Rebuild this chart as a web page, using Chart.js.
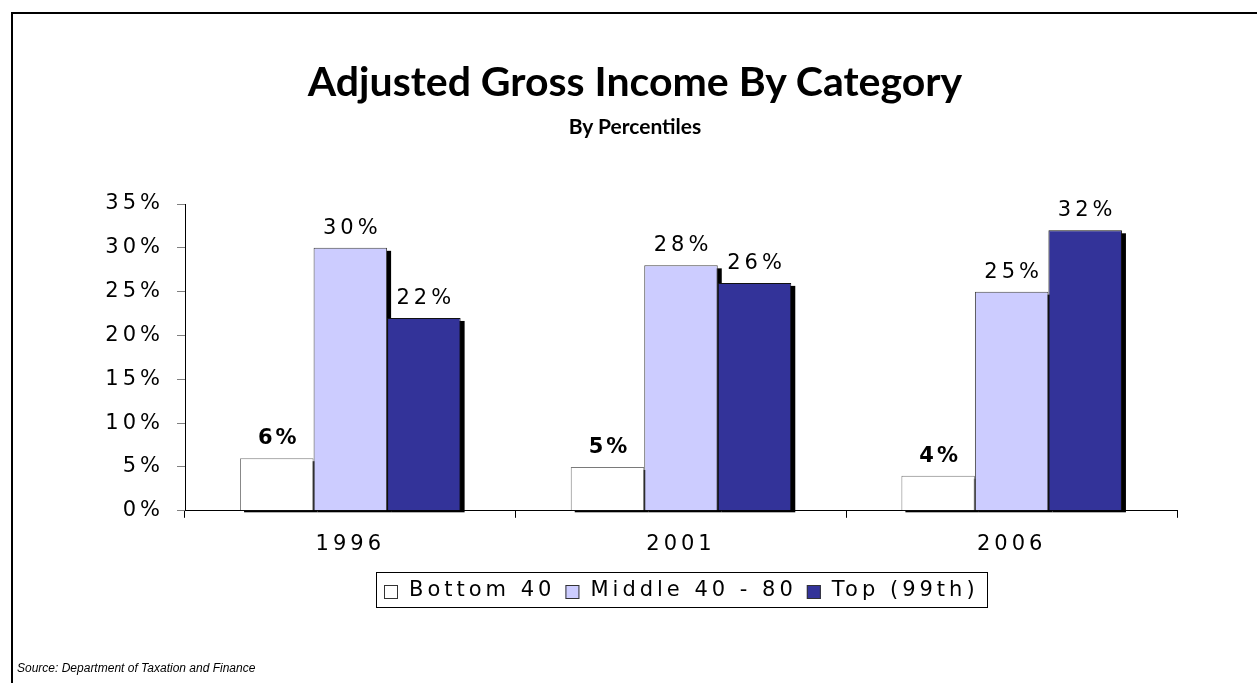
<!DOCTYPE html>
<html>
<head>
<meta charset="utf-8">
<title>Adjusted Gross Income By Category</title>
<script src="https://cdn.jsdelivr.net/npm/chart.js"></script>
<style>
  html, body { margin: 0; padding: 0; background: #fff; }
  #page { position: relative; width: 1257px; height: 683px; overflow: hidden; }
  #frame { position: absolute; left: 11px; top: 12px; width: 1400px; height: 800px;
           border-left: 2px solid #000; border-top: 2px solid #000; }
  #chartBox { position: absolute; left: 0; top: 0; width: 1257px; height: 683px; }
  .head { position: absolute; left: 13px; right: 0; text-align: center; color: #000;
          font-family: Lato, sans-serif; font-weight: bold; }
  #title { top: 60px; font-size: 41px; line-height: 41px; }
  #subtitle { top: 115px; font-size: 21px; line-height: 21px; }
  #source { position: absolute; left: 17px; top: 661px; font: italic 12px "Liberation Sans", Arial, sans-serif; color: #000; }
</style>
</head>
<body>
<div id="page">
  <div id="frame"></div>
  <div id="chartBox"><canvas id="graph"></canvas></div>
  <div class="head" id="title">Adjusted Gross Income By Category</div>
  <div class="head" id="subtitle">By Percentiles</div>
  <div id="source">Source: Department of Taxation and Finance</div>
</div>
<script>
const years = ["1996", "2001", "2006"];
const seriesNames = ["Bottom 40", "Middle 40 - 80", "Top (99th)"];
const bottom40 = [6, 5, 4];
const middle40to80 = [30, 28, 25];
const top99th = [22, 26, 32];
const yTicks = [0, 5, 10, 15, 20, 25, 30, 35];

const fillColors = ["#ffffff", "#ccccff", "#333399"];
const edgeColors = ["#7a7a7a", "#444444", "#111111"];
const textFont = "\"DejaVu Sans\"";
const textSize = 21;

// wide lettering for everything drawn on the canvas
const spacing = {
    id: "spacing",
    beforeUpdate(chart) { chart.ctx.letterSpacing = "4px"; },
    beforeDraw(chart) { chart.ctx.letterSpacing = "4px"; }
};

// black drop shadow behind each bar
const shadows = {
    id: "shadows",
    beforeDatasetsDraw(chart) {
        const ctx = chart.ctx;
        ctx.save();
        ctx.fillStyle = "#000";
        chart.data.datasets.forEach((ds, i) => {
            chart.getDatasetMeta(i).data.forEach(bar => {
                const p = bar.getProps(["x", "y", "base", "width"], true);
                ctx.fillRect(p.x - p.width / 2 + 4, p.y + 3, p.width, p.base - p.y - 1);
            });
        });
        ctx.restore();
    }
};

// value above every bar, bold for the first series
const valueLabels = {
    id: "valueLabels",
    afterDatasetsDraw(chart) {
        const ctx = chart.ctx;
        ctx.save();
        ctx.textAlign = "center";
        ctx.textBaseline = "alphabetic";
        ctx.fillStyle = "#000";
        chart.data.datasets.forEach((ds, i) => {
            ctx.font = (i === 0 ? "bold 21px " : textSize + "px ") + textFont;
            ctx.letterSpacing = i === 0 ? "3px" : "4px";
            chart.getDatasetMeta(i).data.forEach((bar, j) => {
                ctx.fillText(ds.data[j] + "%", bar.x + 2, bar.y - 14);
            });
        });
        ctx.restore();
    }
};

// legend in a framed box under the plot, centred on the plot area
const boxedLegend = {
    id: "boxedLegend",
    afterDraw(chart) {
        const ctx = chart.ctx;
        const area = chart.chartArea;
        const sw = 14, gap = 11, after = 10, pad = 8;
        ctx.save();
        ctx.font = textSize + "px " + textFont;
        const widths = chart.data.datasets.map(ds => ctx.measureText(ds.label).width);
        const total = pad * 2 + widths.reduce((a, w) => a + sw + gap + w + after, 0) - after;
        let x = Math.round((area.left + area.right) / 2 - total / 2);
        const top = Math.round(area.bottom) + 61, h = 35;
        const mid = top + h / 2 + 1;
        ctx.lineWidth = 1;
        ctx.strokeStyle = "#000";
        ctx.strokeRect(x + 0.5, top + 0.5, Math.round(total), h);
        x += pad;
        ctx.textAlign = "left";
        ctx.textBaseline = "middle";
        chart.data.datasets.forEach((ds, i) => {
            const sy = Math.round(mid - sw / 2) + 1;
            ctx.fillStyle = ds.backgroundColor;
            ctx.fillRect(x, sy, sw, sw);
            ctx.strokeStyle = "#333";
            ctx.strokeRect(x + 0.5, sy + 0.5, sw - 1, sw - 1);
            ctx.fillStyle = "#000";
            ctx.fillText(ds.label, x + sw + gap, mid);
            x += sw + gap + widths[i] + after;
        });
        ctx.restore();
    }
};

const seriesValues = [bottom40, middle40to80, top99th];

var chart = new Chart("graph", {
    type: "bar",
    data: {
        labels: years,
        datasets: seriesValues.map((values, i) => ({
            label: seriesNames[i],
            data: values,
            backgroundColor: fillColors[i],
            borderColor: edgeColors[i],
            borderWidth: 1,
            categoryPercentage: 0.667,
            barPercentage: 1
        }))
    },
    options: {
        responsive: true,
        maintainAspectRatio: false,
        animation: false,
        layout: {padding: {top: 204, right: 80, bottom: 112, left: 0}},
        plugins: {
            legend: {display: false},
            tooltip: {enabled: false}
        },
        scales: {
            x: {
                grid: {display: true, drawOnChartArea: false, drawTicks: true, tickLength: 7, color: "#000", offset: true},
                border: {display: true, color: "#000", width: 1},
                ticks: {color: "#000", padding: 14, font: {family: "DejaVu Sans", size: textSize}}
            },
            y: {
                min: 0,
                max: 35,
                afterBuildTicks: scale => { scale.ticks = yTicks.map(v => ({value: v})); },
                afterFit: scale => { scale.width = 185; },
                grid: {display: true, drawOnChartArea: false, drawTicks: true, tickLength: 8, color: "#808080"},
                border: {display: true, color: "#000", width: 1},
                ticks: {
                    color: "#000",
                    padding: 13,
                    font: {family: "DejaVu Sans", size: textSize},
                    callback: v => v + "%"
                }
            }
        }
    },
    plugins: [spacing, shadows, valueLabels, boxedLegend]
});
</script>
</body>
</html>
